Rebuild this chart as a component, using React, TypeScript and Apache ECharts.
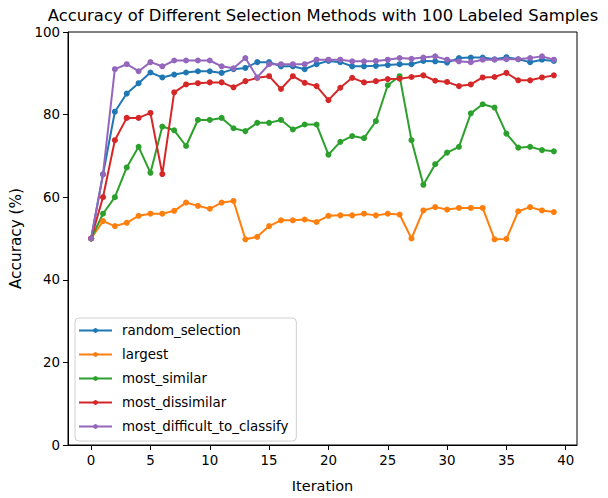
import React, { useEffect, useRef } from "react";
import * as echarts from "echarts";

const iterations = Array.from({ length: 40 }, (_, i) => i);
const xTicks = [0, 5, 10, 15, 20, 25, 30, 35, 40];

const randomSelection = [50, 65.5, 80.7, 85.1, 87.6, 90.2, 89.0, 89.7, 90.2, 90.5, 90.5, 90.1, 91.0, 91.3, 92.7, 92.7, 91.7, 91.7, 91.0, 92.2, 93.0, 92.7, 91.7, 91.7, 91.8, 92.0, 92.2, 92.2, 93.0, 92.9, 92.6, 93.7, 93.8, 93.8, 93.4, 93.9, 93.4, 92.7, 93.3, 93.0];
const largest = [50.0, 54.2, 53.0, 53.8, 55.5, 56.0, 56.0, 56.7, 58.7, 57.9, 57.2, 58.7, 59.1, 49.8, 50.4, 53.0, 54.4, 54.4, 54.6, 54.0, 55.5, 55.6, 55.6, 56.0, 55.6, 56.0, 55.8, 50.0, 56.8, 57.6, 57.0, 57.4, 57.4, 57.4, 49.8, 49.9, 56.6, 57.6, 56.8, 56.4];
const mostSimilar = [50, 56.0, 60.0, 67.2, 72.2, 65.9, 77.1, 76.2, 72.4, 78.7, 78.7, 79.2, 76.7, 76.0, 78.0, 78.0, 78.7, 76.4, 77.6, 77.6, 70.3, 73.4, 74.8, 74.3, 78.4, 87.1, 89.3, 73.8, 63.0, 68.0, 70.8, 72.2, 80.3, 82.5, 81.7, 75.4, 72.0, 72.2, 71.4, 71.1];
const mostDissimilar = [50, 60.0, 73.8, 79.2, 79.2, 80.4, 65.6, 85.4, 87.3, 87.6, 87.8, 87.8, 86.6, 88.1, 88.9, 89.3, 86.2, 89.3, 87.7, 86.9, 83.5, 86.5, 88.9, 87.8, 88.1, 88.6, 88.7, 89.1, 89.5, 88.2, 87.9, 86.9, 87.3, 89.0, 89.1, 90.1, 88.3, 88.3, 89.0, 89.5];
const mostDifficult = [50, 65.6, 91.0, 92.2, 90.5, 92.7, 91.7, 93.1, 93.1, 93.1, 93.1, 91.7, 91.2, 93.7, 89.0, 92.2, 92.2, 92.2, 92.2, 93.3, 93.3, 93.3, 92.9, 92.9, 93.0, 93.3, 93.7, 93.5, 93.8, 94.1, 93.3, 92.9, 92.7, 93.3, 93.3, 93.4, 93.4, 93.7, 94.1, 93.3];

const seriesNames = ["random_selection", "largest", "most_similar", "most_dissimilar", "most_difficult_to_classify"];
const seriesValues = [randomSelection, largest, mostSimilar, mostDissimilar, mostDifficult];
const colors = ["#1f77b4", "#ff7f0e", "#2ca02c", "#d62728", "#9467bd"];

const FONT = "DejaVu Sans";

export default function App() {
  const ref = useRef<HTMLDivElement>(null);
  useEffect(() => {
    if (!ref.current) return;
    const chart = echarts.init(ref.current, null, { renderer: "svg" });
    chart.setOption({
      animation: false,
      backgroundColor: "#fff",
      title: {
        text: "Accuracy of Different Selection Methods with 100 Labeled Samples",
        left: 318,
        textAlign: "center",
        top: 2,
        textStyle: { fontFamily: FONT, fontSize: 16.4, fontWeight: "normal", color: "#000" },
      },
      grid: { left: 68, right: 31, top: 32, bottom: 50, show: true, borderColor: "#000", borderWidth: 1, backgroundColor: "transparent" },
      legend: {
        orient: "vertical",
        left: 75,
        top: 318,
        itemWidth: 33,
        itemHeight: 6,
        itemGap: 11,
        padding: [6, 8, 8, 3],
        borderColor: "#d0d0d0",
        borderWidth: 1,
        borderRadius: 4,
        backgroundColor: "rgba(255,255,255,0.8)",
        textStyle: { fontFamily: FONT, fontSize: 13.4, color: "#000", padding: [0, 0, 0, 5] },
        data: seriesNames,
      },
      xAxis: {
        type: "value",
        min: -1.95,
        max: 40.95,
        name: "Iteration",
        nameLocation: "middle",
        nameGap: 33,
        nameTextStyle: { fontFamily: FONT, fontSize: 14.5, color: "#000" },
        splitLine: { show: false },
        axisLine: { show: true, onZero: false, lineStyle: { color: "#000" } },
        axisTick: { show: true, length: 5, customValues: xTicks, lineStyle: { color: "#000" } },
        axisLabel: { customValues: xTicks, fontFamily: FONT, fontSize: 13.4, color: "#000", margin: 9 },
      },
      yAxis: {
        type: "value",
        min: 0,
        max: 100,
        interval: 20,
        name: "Accuracy (%)",
        nameLocation: "middle",
        nameGap: 44,
        nameTextStyle: { fontFamily: FONT, fontSize: 15.3, color: "#000" },
        splitLine: { show: false },
        axisLine: { show: true, onZero: false, lineStyle: { color: "#000" } },
        axisTick: { show: true, length: 5, lineStyle: { color: "#000" } },
        axisLabel: { fontFamily: FONT, fontSize: 13.4, color: "#000", margin: 8 },
      },
      series: seriesNames.map((name, k) => ({
        name,
        type: "line",
        data: iterations.map((it, i) => [it, seriesValues[k][i]]),
        color: colors[k],
        symbol: "circle",
        symbolSize: 6,
        lineStyle: { width: 2, color: colors[k] },
        itemStyle: { color: colors[k] },
      })),
    });
    return () => chart.dispose();
  }, []);
  return <div ref={ref} style={{ position: "absolute", left: 0, top: 0, width: 608, height: 498 }} />;
}
